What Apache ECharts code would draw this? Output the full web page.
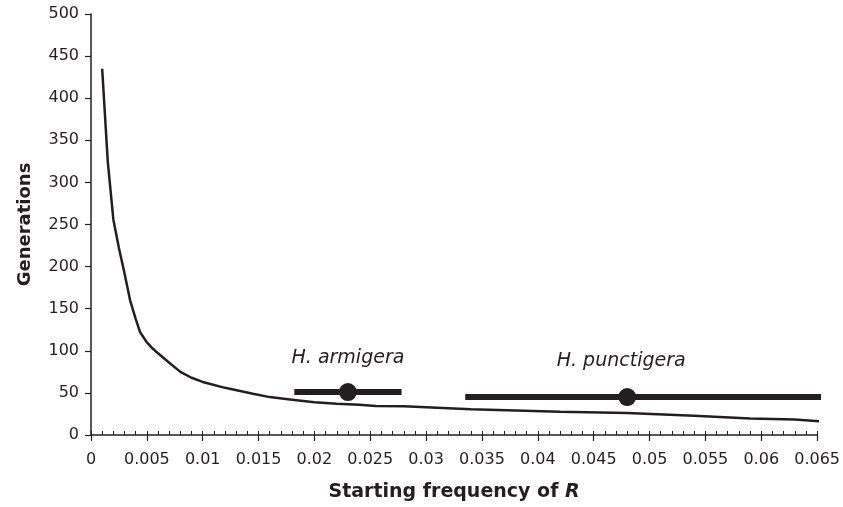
<!DOCTYPE html>
<html>
<head>
<meta charset="utf-8">
<script src="https://cdn.jsdelivr.net/npm/echarts@6/dist/echarts.min.js"></script>
<style>
  html, body { margin: 0; padding: 0; background: #fff; }
  #chart { width: 843px; height: 507px; }
</style>
</head>
<body>
<div id="chart"></div>
<script>
// starting frequency of R -> generations
var freq = [0.001, 0.0015, 0.002, 0.0025, 0.003, 0.0035, 0.004, 0.0044, 0.005, 0.0055, 0.006, 0.0069,
  0.008, 0.009, 0.01, 0.012, 0.0145, 0.016, 0.018, 0.02, 0.022, 0.024, 0.0255, 0.028, 0.03,
  0.034, 0.042, 0.048, 0.054, 0.059, 0.063, 0.0655]
var generations = [435, 325, 256, 222, 192, 160, 138, 122, 110, 103, 97, 87,
  75, 68, 63, 56, 49, 45, 42, 39, 37, 36, 34.5, 34, 33,
  30.5, 27.5, 26, 23, 19.5, 18.5, 16]

// species ranges: [low, high], mean, generations
var armigeraRange = [0.0182, 0.0278]
var armigeraMean = 0.023
var armigeraGen = 51
var punctigeraRange = [0.0335, 0.0655]
var punctigeraMean = 0.048
var punctigeraGen = 45

var yTicks = [0, 500, 50]
var xTicks = [0, 0.065, 0.005]

var ink = '#231f20'
var font = 'DejaVu Sans'

var curve = freq.map(function (f, i) { return [f, generations[i]] })

var chart = echarts.init(document.getElementById('chart'))

var option = {
  animation: false,
  textStyle: { fontFamily: font, color: ink },
  grid: { left: 91, right: 25, top: 14, bottom: 71 },
  xAxis: [
    {
      type: 'value',
      min: xTicks[0],
      max: xTicks[1],
      interval: xTicks[2],
      name: '{b|Starting frequency of }{bi|R}',
      nameLocation: 'middle',
      nameGap: 48,
      nameTextStyle: {
        rich: {
          b: { fontFamily: font, fontSize: 19, fontWeight: 'bold', color: ink },
          bi: { fontFamily: font, fontSize: 19, fontWeight: 'bold', fontStyle: 'italic', color: ink }
        }
      },
      splitLine: { show: false },
      axisLine: { lineStyle: { color: ink, width: 1.5 } },
      axisTick: { length: 6, lineStyle: { color: ink, width: 1.2 } },
      axisLabel: {
        margin: 17,
        fontSize: 16,
        fontFamily: font,
        color: ink,
        formatter: function (value) {
          return String(+value.toFixed(3))
        }
      }
    },
    // 小刻度 (minor ticks, pointing up)
    {
      type: 'value',
      position: 'bottom',
      min: xTicks[0],
      max: xTicks[1],
      interval: 0.001,
      splitLine: { show: false },
      axisLine: { show: false },
      axisTick: { inside: true, length: 4, lineStyle: { color: ink, width: 1 } },
      axisLabel: { show: false }
    }
  ],
  yAxis: {
    type: 'value',
    min: yTicks[0],
    max: yTicks[1],
    interval: yTicks[2],
    name: 'Generations',
    nameLocation: 'middle',
    nameGap: 57,
    nameTextStyle: { fontFamily: font, fontSize: 18, fontWeight: 'bold', color: ink },
    splitLine: { show: false },
    axisLine: { show: true, lineStyle: { color: ink, width: 1.5 } },
    axisTick: { show: true, length: 6, lineStyle: { color: ink, width: 1.2 } },
    axisLabel: { margin: 12, fontSize: 16, fontFamily: font, color: ink }
  },
  series: [
    {
      name: 'curve',
      type: 'line',
      data: curve,
      showSymbol: false,
      clip: false,
      lineStyle: { color: ink, width: 2.5 }
    },
    {
      name: 'armigera range',
      type: 'line',
      data: [[armigeraRange[0], armigeraGen], [armigeraRange[1], armigeraGen]],
      showSymbol: false,
      clip: false,
      lineStyle: { color: ink, width: 6, cap: 'butt' }
    },
    {
      name: 'punctigera range',
      type: 'line',
      data: [[punctigeraRange[0], punctigeraGen], [punctigeraRange[1], punctigeraGen]],
      showSymbol: false,
      clip: false,
      lineStyle: { color: ink, width: 6, cap: 'butt' }
    },
    {
      name: 'means',
      type: 'scatter',
      symbolSize: 18,
      itemStyle: { color: ink, opacity: 1 },
      label: {
        show: true,
        position: 'top',
        fontFamily: font,
        fontSize: 19,
        fontStyle: 'italic',
        color: ink,
        formatter: function (p) { return p.name }
      },
      data: [
        { name: 'H. armigera', value: [armigeraMean, armigeraGen], label: { distance: 15 } },
        { name: 'H. punctigera', value: [punctigeraMean, punctigeraGen], label: { distance: 18, offset: [-6, 0] } }
      ]
    }
  ]
}

chart.setOption(option)
</script>
</body>
</html>
